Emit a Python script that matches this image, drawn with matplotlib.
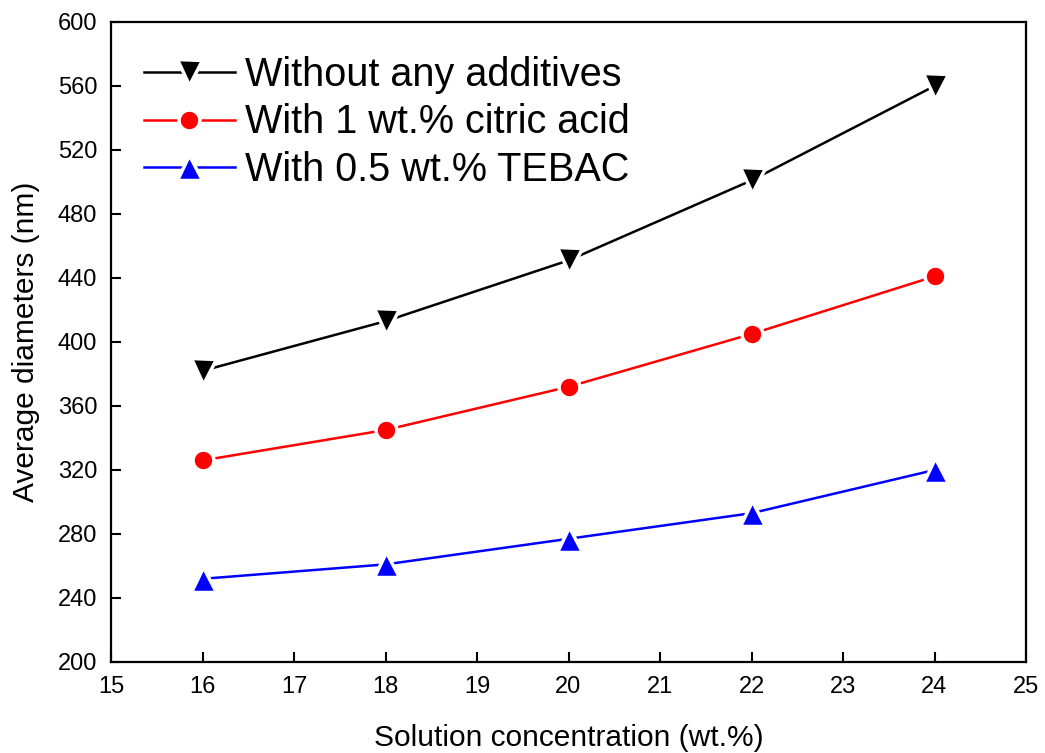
import matplotlib
matplotlib.use("Agg")
import matplotlib.pyplot as plt

plt.rcParams['font.family'] = ['Liberation Sans', 'DejaVu Sans']

conc = [16, 18, 20, 22, 24]
no_additive = [382, 413, 451, 501, 560]
citric_acid = [326, 345, 372, 405, 441]
tebac = [252, 261, 277, 293, 320]

labels = ["Without any additives", "With 1 wt.% citric acid", "With 0.5 wt.% TEBAC"]
xticks = [15, 16, 17, 18, 19, 20, 21, 22, 23, 24, 25]
yticks = [200, 240, 280, 320, 360, 400, 440, 480, 520, 560, 600]

fig = plt.figure(figsize=(10.45, 7.53), dpi=100)
ax = fig.add_axes([111/1045, 1 - 662/753, (1026-111)/1045, (662-22)/753])

ax.plot(conc, no_additive, color='black', lw=1.8, marker='v', ms=18,
        mfc='black', mec='white', mew=2.5, label=labels[0])
ax.plot(conc, citric_acid, color='red', lw=1.8, marker='o', ms=15,
        mfc='red', mec='white', mew=2.5, label=labels[1])
ax.plot(conc, tebac, color='blue', lw=1.8, marker='^', ms=18,
        mfc='blue', mec='white', mew=2.5, label=labels[2])

ax.set_xlim(15, 25)
ax.set_ylim(200, 600)
ax.set_xticks(xticks)
ax.set_yticks(yticks)
ax.tick_params(direction='in', length=7, width=1.5, labelsize=17, pad=10)
for s in ax.spines.values():
    s.set_linewidth(1.6)

ax.set_xlabel("Solution concentration (wt.%)", fontsize=21.5, labelpad=19)
ax.set_ylabel("Average diameters (nm)", fontsize=21.5, labelpad=13)

ax.legend(loc='upper left', bbox_to_anchor=(0.027, 0.96), frameon=False,
          fontsize=28.5, handlelength=2.3, handletextpad=0.25, labelspacing=0.25,
          borderaxespad=0.0, borderpad=0.2)

fig.savefig("out.png", dpi=100)
